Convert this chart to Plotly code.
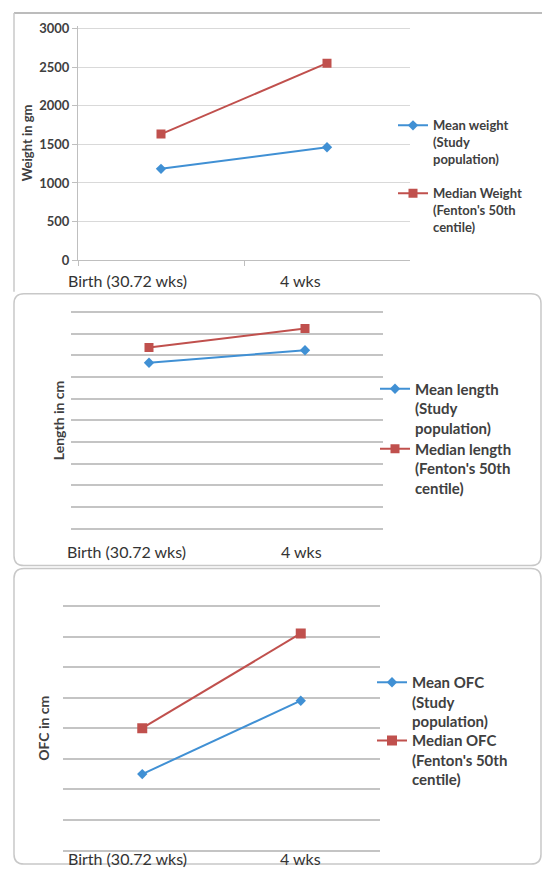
import plotly.graph_objects as go

W, H = 542, 874

categories = ["Birth (30.72 wks)", "4 wks"]

weight_mean = [1183, 1464]
weight_median = [1634, 2553]
length_mean = [38.3, 41.2]
length_median = [41.8, 46.2]
ofc_mean = [26.5, 28.9]
ofc_median = [28.0, 31.1]

names_weight = ["Mean weight<br>(Study<br>population)", "Median Weight<br>(Fenton's 50th<br>centile)"]
names_length = ["Mean length<br>(Study<br>population)", "Median length<br>(Fenton's 50th<br>centile)"]
names_ofc = ["Mean OFC<br>(Study<br>population)", "Median OFC<br>(Fenton's 50th<br>centile)"]

BLUE = "#4090d4"
RED = "#c0504d"
FONT = "Lato"


def X(px):
    return px / W


def Y(py):
    return 1 - py / H


fig = go.Figure()

panels = [
    ("x", "y", weight_mean, weight_median, names_weight, ("legend", "legend2"), 8, 9),
    ("x2", "y2", length_mean, length_median, names_length, ("legend3", "legend4"), 8, 9),
    ("x3", "y3", ofc_mean, ofc_median, names_ofc, ("legend5", "legend6"), 8, 10),
]
for xa, ya, mean, med, names, legs, dsz, ssz in panels:
    fig.add_trace(go.Scatter(x=categories, y=mean, mode="lines+markers", name=names[0],
                             xaxis=xa, yaxis=ya, legend=legs[0],
                             line=dict(color=BLUE, width=2),
                             marker=dict(symbol="diamond", size=dsz, color=BLUE)))
    fig.add_trace(go.Scatter(x=categories, y=med, mode="lines+markers", name=names[1],
                             xaxis=xa, yaxis=ya, legend=legs[1],
                             line=dict(color=RED, width=2),
                             marker=dict(symbol="square", size=ssz, color=RED)))

tick_font = dict(family=FONT, size=13, color="#404040", weight="bold")


def leg(px, py, size):
    return dict(x=X(px), y=Y(py), xanchor="left", yanchor="top", bgcolor="rgba(0,0,0,0)",
                font=dict(family=FONT, size=size, color="#404040", weight="bold"),
                valign="top", itemwidth=30, tracegroupgap=0)


# small pixel padding so that edge gridlines are not culled
PAD = 3
mid_unit = 22.0 / 5      # px per cm on the length panel
ofc_unit = 31.0          # px per cm on the OFC panel
top_unit = 235.0 / 3000  # px per gram on the weight panel

fig.update_layout(
    width=W, height=H,
    margin=dict(l=0, r=0, t=0, b=0),
    paper_bgcolor="white", plot_bgcolor="white",
    showlegend=True,
    legend=leg(393, 107, 13),
    legend2=leg(393, 176, 13),
    legend3=leg(375, 373, 15),
    legend4=leg(375, 434, 15),
    legend5=leg(372, 671, 15),
    legend6=leg(372, 730, 15),
    xaxis=dict(domain=[X(78), X(410)], type="category", range=[-0.5, 1.5],
               showline=True, linecolor="#bfbfbf", linewidth=1, ticks="outside",
               tickson="boundaries", ticklen=5, tickcolor="#bfbfbf",
               showticklabels=False, showgrid=False, zeroline=False, anchor="y"),
    yaxis=dict(domain=[Y(259), Y(24 - PAD)], range=[0, 3000 + PAD / top_unit],
               tickvals=[0, 500, 1000, 1500, 2000, 2500, 3000],
               showline=True, linecolor="#bfbfbf", linewidth=1, ticks="outside",
               ticklen=5, tickcolor="#bfbfbf", gridcolor="#d9d9d9", gridwidth=1,
               zeroline=False, tickfont=tick_font, anchor="x",
               title=dict(text="Weight in gm", font=tick_font, standoff=3)),
    xaxis2=dict(domain=[X(71), X(383)], type="category", range=[-0.5, 1.5],
                showline=False, ticks="", showticklabels=False, showgrid=False,
                zeroline=False, anchor="y2"),
    yaxis2=dict(domain=[Y(531.7 + PAD), Y(311.7 - PAD)],
                range=[0 - PAD / mid_unit, 50 + PAD / mid_unit], dtick=5, tick0=0,
                showline=False, ticks="", showticklabels=False,
                gridcolor="#c4c4c4", gridwidth=1.5, zeroline=False, anchor="x2",
                title=dict(text="Length in cm", standoff=2,
                           font=dict(family=FONT, size=14, color="#404040", weight="bold"))),
    xaxis3=dict(domain=[X(63), X(380)], type="category", range=[-0.5, 1.5],
                showline=False, ticks="", showticklabels=False, showgrid=False,
                zeroline=False, anchor="y3"),
    yaxis3=dict(domain=[Y(858.3 + PAD), Y(610 - PAD)],
                range=[24 - PAD / ofc_unit, 32 + PAD / ofc_unit], dtick=1, tick0=0,
                showline=False, ticks="", showticklabels=False,
                gridcolor="#c4c4c4", gridwidth=1.5, zeroline=False, anchor="x3",
                title=dict(text="OFC in cm", standoff=9,
                           font=dict(family=FONT, size=14, color="#404040", weight="bold"))),
)

# category labels below each panel
label_font = dict(family=FONT, size=16, color="#333333")
label_rows = [("x", 280, [-34, -27]), ("x2", 555, [-23, -4]), ("x3", 866, [-15, 0])]
for xa, py, shifts in label_rows:
    for cat, sh in zip(categories, shifts):
        fig.add_annotation(x=cat, xref=xa, y=Y(py), yref="paper", text=cat,
                           showarrow=False, xshift=sh, yanchor="middle", font=label_font)


# panel frames
def rrect(x0, y0, x1, y1, r):
    def p(px, py):
        return f"{X(px):.5f},{Y(py):.5f}"
    return (f"M {p(x0 + r, y0)} L {p(x1 - r, y0)} Q {p(x1, y0)} {p(x1, y0 + r)} "
            f"L {p(x1, y1 - r)} Q {p(x1, y1)} {p(x1 - r, y1)} L {p(x0 + r, y1)} "
            f"Q {p(x0, y1)} {p(x0, y1 - r)} L {p(x0, y0 + r)} Q {p(x0, y0)} {p(x0 + r, y0)} Z")


fig.add_shape(type="line", xref="paper", yref="paper", x0=X(14), x1=X(542), y0=Y(8), y1=Y(8),
              line=dict(color="#a6a6a6", width=1.5))
fig.add_shape(type="line", xref="paper", yref="paper", x0=X(14), x1=X(14), y0=Y(8), y1=Y(291),
              line=dict(color="#c8c8c8", width=1.5))
fig.add_shape(type="path", xref="paper", yref="paper", path=rrect(14, 293, 541, 569, 10),
              line=dict(color="#c8c8c8", width=1.5))
fig.add_shape(type="path", xref="paper", yref="paper", path=rrect(14, 572, 541, 872, 10),
              line=dict(color="#c8c8c8", width=1.5))

fig.write_html("out.html", config={"displayModeBar": False},
               post_script="document.body.style.margin='0';")
